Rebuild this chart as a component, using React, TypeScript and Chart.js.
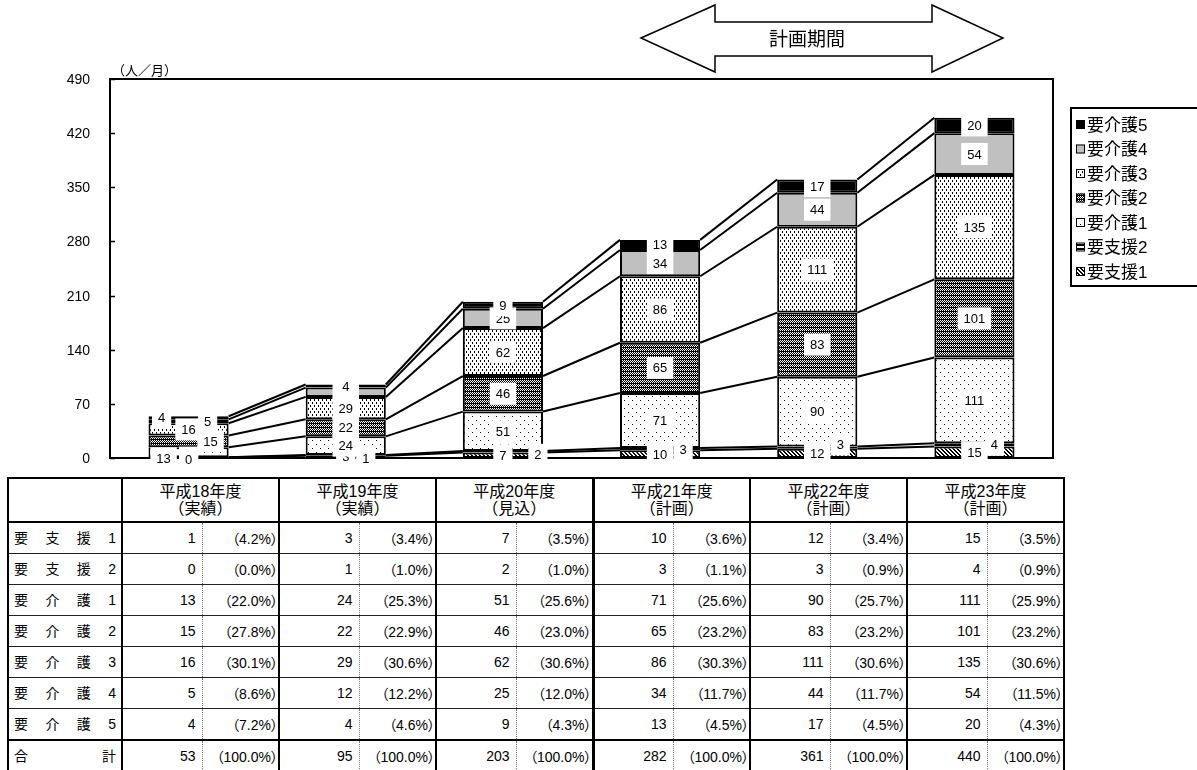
import React, { useEffect, useRef } from 'react';
import { Chart, registerables } from 'chart.js';

Chart.register(...registerables);

// ---------- data ----------
const years = ['平成18年度', '平成19年度', '平成20年度', '平成21年度', '平成22年度', '平成23年度'];
const yearNotes = ['（実績）', '（実績）', '（見込）', '（計画）', '（計画）', '（計画）'];
const seriesNames = ['要支援1', '要支援2', '要介護1', '要介護2', '要介護3', '要介護4', '要介護5'];

const shien1 = [1, 3, 7, 10, 12, 15];
const shien2 = [0, 1, 2, 3, 3, 4];
const kaigo1 = [13, 24, 51, 71, 90, 111];
const kaigo2 = [15, 22, 46, 65, 83, 101];
const kaigo3 = [16, 29, 62, 86, 111, 135];
const kaigo4 = [5, 12, 25, 34, 44, 54];
const kaigo5 = [4, 4, 9, 13, 17, 20];
const totals = [53, 95, 203, 282, 361, 440];

const pctShien1 = [4.2, 3.4, 3.5, 3.6, 3.4, 3.5];
const pctShien2 = [0.0, 1.0, 1.0, 1.1, 0.9, 0.9];
const pctKaigo1 = [22.0, 25.3, 25.6, 25.6, 25.7, 25.9];
const pctKaigo2 = [27.8, 22.9, 23.0, 23.2, 23.2, 23.2];
const pctKaigo3 = [30.1, 30.6, 30.6, 30.3, 30.6, 30.6];
const pctKaigo4 = [8.6, 12.2, 12.0, 11.7, 11.7, 11.5];
const pctKaigo5 = [7.2, 4.6, 4.3, 4.5, 4.5, 4.3];
const pctTotal = [100.0, 100.0, 100.0, 100.0, 100.0, 100.0];

const yMin = 0;
const yMax = 490;
const yStep = 70;
const unitLabel = '（人／月）';
const periodLabel = '計画期間';
const totalLabel = ['合', '計'];

const seriesValues = [shien1, shien2, kaigo1, kaigo2, kaigo3, kaigo4, kaigo5];
const seriesPcts = [pctShien1, pctShien2, pctKaigo1, pctKaigo2, pctKaigo3, pctKaigo4, pctKaigo5];

const FONT = '"Liberation Sans", Arial, "Noto Sans CJK JP", sans-serif';

// ---------- patterns ----------
function makePattern(w: number, h: number, bg: string, px: number[][]): CanvasPattern | string {
  const c = document.createElement('canvas');
  c.width = w;
  c.height = h;
  const g = c.getContext('2d');
  if (!g) return bg;
  g.fillStyle = bg;
  g.fillRect(0, 0, w, h);
  g.fillStyle = bg === '#000' ? '#fff' : '#000';
  px.forEach(([x, y]) => g.fillRect(x, y, 1, 1));
  return g.createPattern(c, 'repeat') || bg;
}

function buildFills(): (CanvasPattern | string)[] {
  const diag = makePattern(4, 4, '#fff', [[0, 0], [1, 1], [2, 2], [3, 3], [1, 0], [2, 1], [3, 2], [0, 3]]);
  const horiz = makePattern(4, 4, '#fff', [[0, 0], [1, 0], [2, 0], [3, 0], [0, 1], [1, 1], [2, 1], [3, 1]]);
  const sparse = makePattern(8, 8, '#fff', [[0, 0], [4, 4]]);
  const dark = makePattern(4, 4, '#000', [[0, 0], [2, 0], [1, 1], [3, 1], [0, 2], [2, 2]]);
  const dashes = makePattern(4, 6, '#fff', [[0, 0], [0, 1], [2, 3], [2, 4]]);
  return [diag, horiz, sparse, dark, dashes, '#c0c0c0', '#000'];
}

// label nudges (Excel hand-placed labels)
function labelShift(d: number, i: number): [number, number] {
  if (i === 0) {
    const first: [number, number][] = [[0, 0], [0, 2], [-25, 6], [22, 0], [0, 0], [19, 0], [-27, 0]];
    return first[d];
  }
  if (d === 1) {
    const s: [number, number][] = [[0, 0], [20, 3], [35, 3], [23, 0], [23, -3], [20, 0]];
    return s[i];
  }
  return [0, 0];
}

const decorPlugin = {
  id: 'decor',
  beforeDatasetsDraw(chart: any) {
    const { ctx, chartArea: a, scales } = chart;
    const y = scales.y;
    ctx.save();
    ctx.strokeStyle = '#000';
    ctx.lineWidth = 2;
    ctx.strokeRect(a.left, a.top, a.right - a.left, a.bottom - a.top);
    ctx.lineWidth = 1.5;
    ctx.fillStyle = '#000';
    ctx.font = '14px ' + FONT;
    ctx.textAlign = 'right';
    ctx.textBaseline = 'middle';
    for (let v = yMin; v <= yMax; v += yStep) {
      const py = Math.round(y.getPixelForValue(v)) + 0.5;
      ctx.beginPath();
      ctx.moveTo(a.left, py);
      ctx.lineTo(a.left + 5, py);
      ctx.stroke();
      ctx.fillText(String(v), a.left - 20, py + 1);
    }
    ctx.restore();
  },
  afterDatasetsDraw(chart: any) {
    const { ctx } = chart;
    const n = chart.data.labels.length;
    ctx.save();
    // series lines
    ctx.strokeStyle = '#000';
    ctx.lineWidth = 2;
    chart.data.datasets.forEach((_ds: any, d: number) => {
      const meta = chart.getDatasetMeta(d);
      for (let i = 0; i < n - 1; i++) {
        const p = meta.data[i].getProps(['x', 'y', 'width'], true);
        const q = meta.data[i + 1].getProps(['x', 'y', 'width'], true);
        ctx.beginPath();
        ctx.moveTo(p.x + p.width / 2, p.y);
        ctx.lineTo(q.x - q.width / 2, q.y);
        ctx.stroke();
      }
    });
    // data labels
    ctx.font = '13px ' + FONT;
    ctx.textAlign = 'center';
    ctx.textBaseline = 'middle';
    chart.data.datasets.forEach((ds: any, d: number) => {
      const meta = chart.getDatasetMeta(d);
      for (let i = 0; i < n; i++) {
        const el = meta.data[i].getProps(['x', 'y', 'base'], true);
        const [dx, dy] = labelShift(d, i);
        const cx = el.x + dx;
        const cy = (el.y + el.base) / 2 + dy;
        const txt = String(ds.data[i]);
        const tw = ctx.measureText(txt).width;
        const bw = tw + 12;
        const bh = 22;
        ctx.fillStyle = '#fff';
        ctx.fillRect(cx - bw / 2, cy - bh / 2, bw, bh);
        ctx.fillStyle = '#000';
        ctx.fillText(txt, cx, cy + 1);
      }
    });
    ctx.restore();
  },
  afterDraw(chart: any) {
    const { ctx, chartArea: a } = chart;
    ctx.save();
    // unit label
    ctx.fillStyle = '#000';
    ctx.font = '13px ' + FONT;
    ctx.textAlign = 'left';
    ctx.textBaseline = 'middle';
    ctx.fillText(unitLabel, a.left + 2, a.top - 8);

    // legend
    const lx = 1071;
    const ly = 108;
    ctx.lineWidth = 2;
    ctx.strokeStyle = '#000';
    ctx.fillStyle = '#fff';
    ctx.fillRect(lx, ly, 140, 178);
    ctx.strokeRect(lx, ly, 140, 178);
    ctx.font = '17px ' + FONT;
    ctx.textBaseline = 'middle';
    const ds = chart.data.datasets;
    for (let k = ds.length - 1; k >= 0; k--) {
      const row = ds.length - 1 - k;
      const cy = ly + 17 + row * 24.5;
      ctx.fillStyle = ds[k].backgroundColor;
      ctx.fillRect(lx + 5, cy - 5, 9, 9);
      ctx.lineWidth = 1;
      ctx.strokeStyle = '#000';
      ctx.strokeRect(lx + 5.5, cy - 4.5, 8, 8);
      ctx.fillStyle = '#000';
      ctx.fillText(ds[k].label, lx + 16, cy + 1);
    }

    // arrow
    ctx.beginPath();
    const pts = [[641, 38], [715, 5], [715, 22], [932, 22], [932, 5], [1003, 38], [932, 72], [932, 56], [715, 56], [715, 72]];
    pts.forEach(([x, y], idx) => (idx === 0 ? ctx.moveTo(x, y) : ctx.lineTo(x, y)));
    ctx.closePath();
    ctx.fillStyle = '#fff';
    ctx.fill();
    ctx.lineWidth = 1.5;
    ctx.strokeStyle = '#000';
    ctx.stroke();
    ctx.fillStyle = '#000';
    ctx.font = '19px ' + FONT;
    ctx.textAlign = 'center';
    ctx.fillText(periodLabel, 807, 41);
    ctx.restore();
  },
};

function ChartCanvas() {
  const ref = useRef<HTMLCanvasElement | null>(null);
  useEffect(() => {
    if (!ref.current) return;
    const fills = buildFills();
    const chart = new Chart(ref.current, {
      type: 'bar',
      data: {
        labels: years,
        datasets: seriesValues.map((vals, k) => ({
          label: seriesNames[k],
          data: vals,
          backgroundColor: fills[k] as any,
          borderColor: '#000',
          borderWidth: 2,
          borderSkipped: false,
          barPercentage: 0.51,
          categoryPercentage: 1,
        })),
      },
      options: {
        animation: false,
        responsive: false,
        maintainAspectRatio: false,
        layout: { padding: { left: 50, right: 144, top: 79, bottom: 12 } },
        plugins: { legend: { display: false }, tooltip: { enabled: false } },
        scales: {
          x: { stacked: true, display: false },
          y: {
            stacked: true,
            min: yMin,
            max: yMax,
            ticks: { display: false, stepSize: yStep, padding: 0 },
            grid: { display: false },
            border: { display: false },
            afterFit: (s: any) => {
              s.width = 60;
            },
          },
        },
      } as any,
      plugins: [decorPlugin],
    });
    return () => chart.destroy();
  }, []);
  return <canvas ref={ref} width={1197} height={470} style={{ position: 'absolute', left: 0, top: 0 }} />;
}

function DataTable() {
  const fmt = (p: number) => `（${p.toFixed(1)}%）`;
  const grpBorder = (i: number) => (i === 3 ? '3px solid #000' : '2px solid #000');
  const rows = seriesNames.map((name, k) => ({ name, vals: seriesValues[k], pcts: seriesPcts[k], total: false }));
  rows.push({ name: '', vals: totals, pcts: pctTotal, total: true });
  const tdBase: React.CSSProperties = {
    height: 30,
    padding: 0,
    borderTop: '1px solid #222',
    borderBottom: '1px solid #222',
    fontSize: 14,
    textAlign: 'right',
    verticalAlign: 'middle',
  };
  return (
    <table
      style={{
        position: 'absolute',
        left: 7,
        top: 477,
        borderCollapse: 'collapse',
        tableLayout: 'fixed',
        width: 1058,
        border: '2px solid #000',
        fontFamily: FONT,
        color: '#000',
        background: '#fff',
      }}
    >
      <colgroup>
        <col style={{ width: 114 }} />
        {years.map((_, i) => (
          <React.Fragment key={i}>
            <col style={{ width: 80 }} />
            <col style={{ width: 77 }} />
          </React.Fragment>
        ))}
      </colgroup>
      <tbody>
        <tr>
          <td style={{ height: 42, padding: 0, borderBottom: '2px solid #000', borderRight: '2px solid #000' }} />
          {years.map((y, i) => (
            <td
              key={i}
              colSpan={2}
              style={{
                padding: 0,
                borderBottom: '2px solid #000',
                borderLeft: grpBorder(i),
                borderRight: '2px solid #000',
                textAlign: 'center',
                fontSize: 16,
                lineHeight: '17px',
              }}
            >
              <div>{y}</div>
              <div>{yearNotes[i]}</div>
            </td>
          ))}
        </tr>
        {rows.map((r, k) => (
          <tr key={k}>
            <td
              style={{
                ...tdBase,
                borderTop: r.total ? '2px solid #000' : tdBase.borderTop,
                borderRight: '2px solid #000',
                textAlign: 'left',
              }}
            >
              <div
                style={{
                  display: 'flex',
                  justifyContent: 'space-between',
                  alignItems: 'baseline',
                  padding: '0 5px 0 5px',
                  lineHeight: '18px',
                }}
              >
                {(r.total ? totalLabel : r.name.split('')).map((ch, j) => (
                  <span key={j}>{ch}</span>
                ))}
              </div>
            </td>
            {r.vals.map((v, i) => (
              <React.Fragment key={i}>
                <td
                  style={{
                    ...tdBase,
                    borderTop: r.total ? '2px solid #000' : tdBase.borderTop,
                    borderLeft: grpBorder(i),
                    borderRight: '1px dotted #777',
                    paddingRight: 6,
                  }}
                >
                  {v}
                </td>
                <td
                  style={{
                    ...tdBase,
                    borderTop: r.total ? '2px solid #000' : tdBase.borderTop,
                    borderRight: '2px solid #000',
                    paddingRight: 0,
                    fontFeatureSettings: '"palt"',
                  }}
                >
                  {fmt(r.pcts[i])}
                </td>
              </React.Fragment>
            ))}
          </tr>
        ))}
      </tbody>
    </table>
  );
}

export default function App() {
  return (
    <div style={{ position: 'absolute', left: 0, top: 0, width: 1197, height: 770, overflow: 'hidden', background: '#fff' }}>
      <ChartCanvas />
      <DataTable />
    </div>
  );
}
